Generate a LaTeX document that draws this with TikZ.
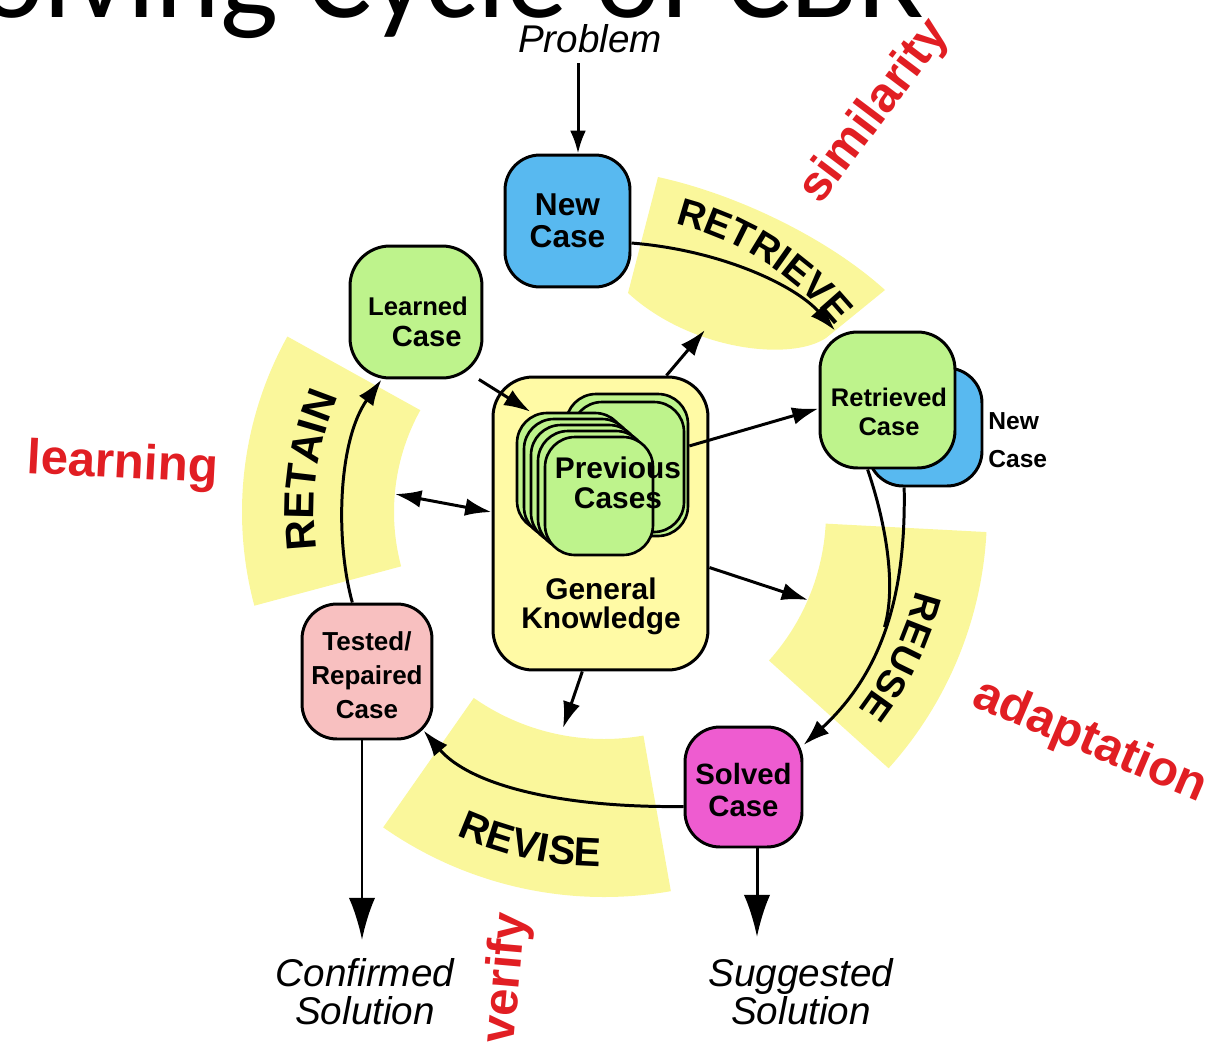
\documentclass[tikz,border=0pt]{standalone}
\usepackage{fontspec}
\setmainfont{Liberation Sans}
\newfontfamily\headingfont{Carlito}
\usetikzlibrary{arrows.meta,calc,decorations.text}

\definecolor{bandyellow}{RGB}{250,247,155}
\definecolor{knowyellow}{RGB}{255,250,165}
\definecolor{caseblue}{RGB}{88,185,240}
\definecolor{casegreen}{RGB}{190,243,140}
\definecolor{casepink}{RGB}{248,192,192}
\definecolor{casemagenta}{RGB}{238,92,208}
\definecolor{labelred}{RGB}{225,30,35}

\tikzset{
  casebox/.style={draw=black, line width=1.7pt, rounded corners=0.7cm, inner sep=0pt},
  card/.style={draw=black, line width=1.5pt, fill=casegreen, rounded corners=0.6cm,
               minimum width=2.16cm, minimum height=2.36cm, inner sep=0pt},
  boxtext/.style={align=center, inner sep=0pt},
  flow/.style={line width=1.7pt, -{Latex[length=15pt,width=10pt]}},
  twoway/.style={line width=1.7pt, {Latex[length=15pt,width=10pt]}-{Latex[length=15pt,width=10pt]}},
  outflow/.style={line width=1.7pt, -{Latex[length=24pt,width=15pt]}},
  redlabel/.style={font=\bfseries\fontsize{28}{28}\selectfont, text=labelred, inner sep=0pt},
  note/.style={font=\itshape\fontsize{22}{21.5}\selectfont, align=center, inner sep=0pt},
  band/.style={fill=bandyellow},
  phase/.style={decorate, decoration={text along path, text align=center, text={#1}}},
}

\begin{document}
\begin{tikzpicture}[x=0.02cm, y=-0.02cm]
\useasboundingbox (0,0) rectangle (1224,1045);

% heading, partly above the page edge
\node[anchor=base east, inner sep=0pt, font=\headingfont\fontsize{70}{70}\selectfont] (heading) at (925,17) {olving Cycle of CBR};

% centre of the cycle
\coordinate (hub) at (604,512);

% yellow phase bands
\fill[band] (658,177) .. controls (740,195) and (830,240) .. (885,290)
  -- (826,338) .. controls (790,362) and (690,350) .. (628,293) -- cycle;
\fill[band] ($(hub)+(3:383)$) arc[start angle=3, end angle=42, radius=383]
  -- ($(hub)+(42:222)$) arc[start angle=42, end angle=3, radius=222] -- cycle;
\fill[band] ($(hub)+(80:385)$) arc[start angle=80, end angle=125, radius=385]
  -- ($(hub)+(125:227)$) arc[start angle=125, end angle=80, radius=227] -- cycle;
\fill[band] ($(hub)+(165:362)$) arc[start angle=165, end angle=209, radius=362]
  -- ($(hub)+(209:210)$) arc[start angle=209, end angle=165, radius=210] -- cycle;

% phase names along the bands
\path[phase={|\bfseries\fontsize{22}{22}\selectfont|RETRIEVE}]
  ($(hub)+(-85:297)$) arc[start angle=-85, end angle=-30, radius=297];
\path[phase={|\bfseries\fontsize{22}{22}\selectfont|REUSE}]
  ($(hub)+(0:322)$) arc[start angle=0, end angle=52, radius=322];
\path[phase={|\bfseries\fontsize{23}{23}\selectfont|REVISE}]
  ($(hub)+(130:355)$) arc[start angle=130, end angle=75, radius=355];
\path[phase={|\bfseries\fontsize{24}{24}\selectfont|RETAIN}]
  ($(hub)+(160:290)$) arc[start angle=160, end angle=216, radius=290];

% red keywords
\node[redlabel, rotate=53] (simlabel) at (875,112) {similarity};
\node[redlabel, rotate=-3, anchor=base] (learnlabel) at (122,478) {learning};
\node[redlabel, rotate=-23] (adaptlabel) at (1090,742) {adaptation};
\node[redlabel, rotate=85] (verifylabel) at (507,978) {verify};

% input and outputs
\node[note, anchor=base] (problem) at (590,52) {Problem};
\node[note, anchor=north] (confirmed) at (365,958) {Confirmed\\Solution};
\node[note, anchor=north] (suggested) at (801,958) {Suggested\\Solution};

% case boxes
\node[casebox, fill=caseblue, minimum width=2.5cm, minimum height=2.64cm] (newcase) at (567.5,221) {};
\node[boxtext, font=\bfseries\fontsize{18}{18.1}\selectfont] (newcasetext) at (567.5,221) {New\\Case};

\node[casebox, fill=casegreen, minimum width=2.64cm, minimum height=2.64cm, rounded corners=0.8cm] (learned) at (416,312) {};
\node[boxtext, font=\bfseries\fontsize{14.6}{18}\selectfont] (learnedtext) at (418,322) {Learned\\{\fontsize{16.6}{18}\selectfont\hspace*{0.6em}Case}};

\node[casebox, fill=caseblue, minimum width=2.28cm, minimum height=2.36cm] (nc2) at (925,427) {};
\node[casebox, fill=casegreen, minimum width=2.7cm, minimum height=2.72cm, rounded corners=0.75cm] (retrieved) at (887.5,400) {};
\node[boxtext, font=\bfseries\fontsize{14.5}{16.4}\selectfont] (retrievedtext) at (889,411.5) {Retrieved\\Case};
\node[anchor=west, align=left, inner sep=0pt, font=\bfseries\fontsize{14}{21.5}\selectfont] (nc2label) at (988,440) {New\\Case};

\node[casebox, fill=knowyellow, minimum width=4.3cm, minimum height=5.86cm, rounded corners=0.8cm] (knowledge) at (600.5,523.5) {};
\node[boxtext, anchor=north, font=\bfseries\fontsize{17}{17}\selectfont] (knowtext) at (601,577) {General\\Knowledge};

% stack of previous cases
\node[card, minimum width=2.44cm, minimum height=2.84cm] (prevback) at (627,465) {};
\node[card, minimum width=2.24cm, minimum height=2.6cm] (prevmid) at (628,467) {};
\node[card] (card0) at (571,472) {};
\node[card] (card1) at (578,478) {};
\node[card] (card2) at (585,484) {};
\node[card] (card3) at (592,490) {};
\node[card] (card4) at (599,496) {};
\node[boxtext, font=\bfseries\fontsize{17}{17}\selectfont] (prevtext) at (618,483) {Previous\\Cases};

\node[casebox, fill=casepink, minimum width=2.6cm, minimum height=2.7cm] (tested) at (367,671.5) {};
\node[boxtext, font=\bfseries\fontsize{14.8}{19.3}\selectfont] (testedtext) at (367,675.5) {Tested/\\Repaired\\Case};

\node[casebox, fill=casemagenta, minimum width=2.34cm, minimum height=2.4cm] (solved) at (743.5,787) {};
\node[boxtext, font=\bfseries\fontsize{16.7}{18}\selectfont] (solvedtext) at (743.5,790) {Solved\\Case};

% free ends of connectors
\coordinate (probx) at (578,0);
\coordinate (kup) at (705,330);
\coordinate (kreuse) at (808,600);
\coordinate (krevise) at (563,728);
\coordinate (twowayend) at (395,494);
\coordinate (merge) at (884.5,627);
\coordinate (conftip) at (362,940);
\coordinate (sugtip) at (757,937);

% connectors
\draw[line width=1.7pt, -{Latex[length=13pt,width=9pt]}, shorten <=6pt] (problem.south -| probx) -- (newcase.north -| probx);
\draw[flow] (newcase.-19) .. controls (720,250) and (795,285) .. (retrieved.127);
\draw[flow] (knowledge.66) -- (kup);
\draw[flow] (prevback.17) -- (retrieved.187);
\draw[flow] (learned.-47) -- (card0.124);
\draw[twoway] (twowayend) -- (knowledge.174);
\draw[flow] (knowledge.-22) -- (kreuse);
\draw[flow] (knowledge.-97) -- (krevise);
\draw[flow] (nc2.-109) .. controls (906,590) and (885,670) .. (solved.35);
\draw[line width=1.7pt] (retrieved.-106) .. controls (885,520) and (897,585) .. (merge);
\draw[flow] (solved.198) .. controls (560,808) and (470,785) .. ($(tested.south east)+(-10,-10)$);
\draw[flow] (tested.102) .. controls (335,540) and (338,440) .. (learned.-117);
\draw[outflow] (tested.south -| conftip) -- (conftip);
\draw[outflow] (solved.south -| sugtip) -- (sugtip);
\end{tikzpicture}
\end{document}
